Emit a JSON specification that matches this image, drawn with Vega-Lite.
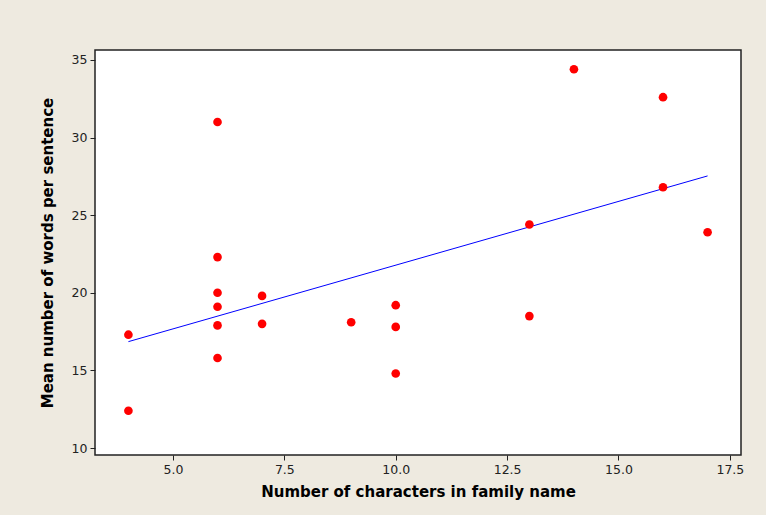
{
  "$schema": "https://vega.github.io/schema/vega-lite/v6.json",
  "width": 646,
  "height": 405,
  "autosize": {"type": "none"},
  "padding": {"left": 95, "top": 50, "right": 25, "bottom": 60},
  "background": "#EEEAE0",
  "data": {"values": [
    {"chars": 4, "words": 17.3},
    {"chars": 4, "words": 12.4},
    {"chars": 6, "words": 31.0},
    {"chars": 6, "words": 22.3},
    {"chars": 6, "words": 20.0},
    {"chars": 6, "words": 19.1},
    {"chars": 6, "words": 17.9},
    {"chars": 6, "words": 15.8},
    {"chars": 7, "words": 19.8},
    {"chars": 7, "words": 18.0},
    {"chars": 9, "words": 18.1},
    {"chars": 10, "words": 19.2},
    {"chars": 10, "words": 17.8},
    {"chars": 10, "words": 14.8},
    {"chars": 13, "words": 24.4},
    {"chars": 13, "words": 18.5},
    {"chars": 14, "words": 34.4},
    {"chars": 16, "words": 32.6},
    {"chars": 16, "words": 26.8},
    {"chars": 17, "words": 23.9}
  ]},
  "encoding": {
    "x": {
      "field": "chars", "type": "quantitative",
      "scale": {"domain": [3.25, 17.75], "nice": false, "zero": false},
      "axis": {"values": [5, 7.5, 10, 12.5, 15, 17.5], "format": ".1f", "title": "Number of characters in family name"}
    },
    "y": {
      "field": "words", "type": "quantitative",
      "scale": {"domain": [9.55, 35.64], "nice": false, "zero": false},
      "axis": {"values": [10, 15, 20, 25, 30, 35], "title": "Mean number of words per sentence"}
    }
  },
  "layer": [
    {
      "transform": [{"regression": "words", "on": "chars", "method": "linear"}],
      "mark": {"type": "line", "color": "#0000FF", "strokeWidth": 1}
    },
    {
      "mark": {"type": "circle", "color": "#FF0000", "opacity": 1, "size": 75}
    }
  ],
  "config": {
    "view": {"fill": "white", "stroke": "#222222", "strokeWidth": 1.5},
    "axis": {
      "grid": false,
      "domain": false,
      "ticks": true,
      "tickColor": "#222222",
      "tickSize": 5,
      "labelFont": "DejaVu Sans",
      "labelFontSize": 12.5,
      "labelColor": "#222222",
      "labelPadding": 3,
      "titleFont": "DejaVu Sans",
      "titleFontSize": 15,
      "titleFontWeight": "bold",
      "titleColor": "#000000"
    },
    "axisX": {"titlePadding": 9},
    "axisY": {"titlePadding": 16}
  }
}
